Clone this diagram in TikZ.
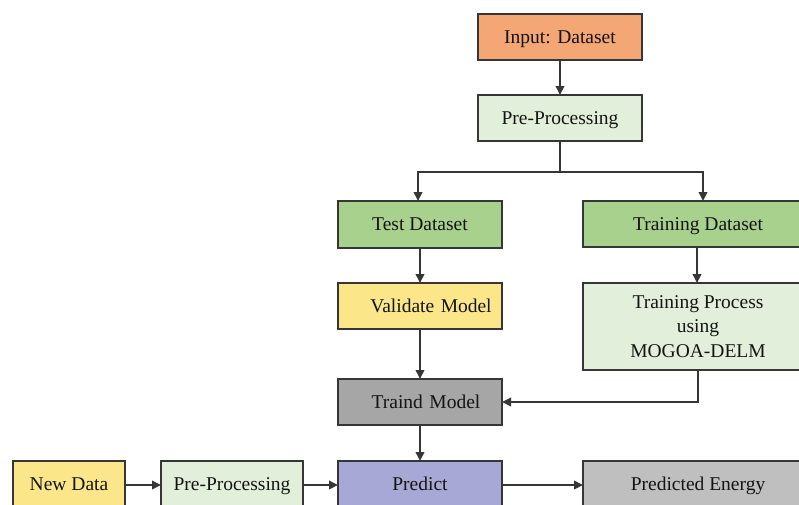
\documentclass[tikz,border=0pt]{standalone}
\usepackage{fontspec}
\setmainfont{Liberation Serif}
\usetikzlibrary{arrows.meta}
\definecolor{cOrange}{HTML}{F4A674}
\definecolor{cLGreen}{HTML}{E2EFDA}
\definecolor{cGreen}{HTML}{A9D18E}
\definecolor{cYellow}{HTML}{FBE78A}
\definecolor{cGray}{HTML}{A6A6A6}
\definecolor{cLGray}{HTML}{BFBFBF}
\definecolor{cLav}{HTML}{A8A8D6}
\definecolor{cLine}{HTML}{363636}
\tikzset{
  box/.style={draw=cLine, line width=1.8pt, rectangle, inner sep=0pt, outer sep=0pt,
    font=\fontsize{19.5}{24.5}\selectfont, text=black!92, align=center},
  onel/.style={box, text height=12.9pt, text depth=0pt},
  arr/.style={draw=cLine, line width=1.9pt, -{Triangle[length=9pt,width=8.5pt]}},
}
\begin{document}
\begin{tikzpicture}[x=1pt,y=-1pt]
\useasboundingbox (0,0) rectangle (799,504);
\clip (0,0) rectangle (799,504);
\fill[white] (0,0) rectangle (799,504);
% top chain
\node[onel, fill=cOrange, minimum width=164pt, minimum height=46pt] (in) at (560,37) {Input: Dataset};
\node[onel, fill=cLGreen, minimum width=164pt, minimum height=46pt] (pp) at (560,118) {Pre-Processing};
\node[onel, fill=cGreen, minimum width=164pt, minimum height=47pt] (test) at (420,224.5) {Test Dataset};
\node[onel, fill=cGreen, minimum width=230pt, minimum height=46pt] (train) at (698,224) {Training Dataset};
\node[onel, fill=cYellow, minimum width=164pt, minimum height=46pt, text width=164pt] (val) at (420,306) {\hspace*{22pt}Validate Model};
\node[box, fill=cLGreen, minimum width=230pt, minimum height=87pt] (tp) at (698,326.5) {Training Process\\using\\MOGOA-DELM};
\node[onel, fill=cGray, minimum width=164pt, minimum height=46pt, text width=164pt] (tm) at (420,402) {\hspace*{12pt}Traind Model};
% bottom row
\node[onel, fill=cYellow, minimum width=112pt, minimum height=46pt] (nd) at (69,484) {New Data};
\node[onel, fill=cLGreen, minimum width=142pt, minimum height=46pt] (pp2) at (232,484) {Pre-Processing};
\node[onel, fill=cLav, minimum width=164pt, minimum height=46pt] (pr) at (420,484) {Predict};
\node[onel, fill=cLGray, minimum width=230pt, minimum height=46pt] (pe) at (698,484) {Predicted Energy};
% connectors
\draw[arr] (in.south) -- (pp.north);
\coordinate (split) at (560,172);
\draw[draw=cLine, line width=1.9pt] (pp.south) -- (split);
\draw[arr] (split) -| ([xshift=-2pt]test.north);
\draw[arr] (split) -| ([xshift=5pt]train.north);
\draw[arr] (test.south) -- (val.north);
\draw[arr] ([xshift=-1pt]train.south) -- ([xshift=-1pt]tp.north);
\draw[arr] (val.south) -- (tm.north);
\draw[arr] (tp.south) |- (tm.east);
\draw[arr] (tm.south) -- (pr.north);
\draw[arr] ([yshift=-1pt]nd.east) -- ([yshift=-1pt]pp2.west);
\draw[arr] ([yshift=-1pt]pp2.east) -- ([yshift=-1pt]pr.west);
\draw[arr] ([yshift=-1pt]pr.east) -- ([yshift=-1pt]pe.west);
\end{tikzpicture}
\end{document}
